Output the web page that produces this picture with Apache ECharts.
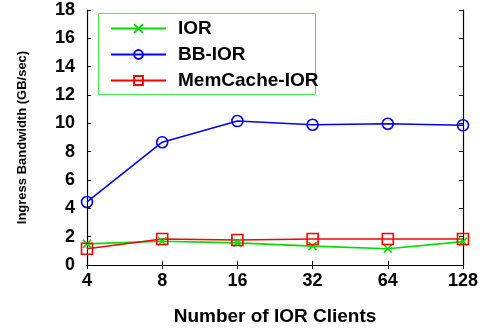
<!DOCTYPE html>
<html>
<head>
<meta charset="utf-8">
<script src="https://cdn.jsdelivr.net/npm/echarts@6/dist/echarts.min.js"></script>
<style>
  html, body { margin: 0; padding: 0; background: #fff; }
  #chart { width: 487px; height: 331px; }
</style>
</head>
<body>
<div id="chart"></div>
<script>
// Ingress bandwidth (GB/sec) by number of IOR clients
const clients = ['4', '8', '16', '32', '64', '128'];
const iorValues = [1.49, 1.68, 1.56, 1.33, 1.15, 1.65];
const bbIorValues = [4.45, 8.67, 10.16, 9.9, 9.97, 9.86];
const memCacheIorValues = [1.15, 1.84, 1.77, 1.84, 1.84, 1.84];
const yTicks = [0, 2, 4, 6, 8, 10, 12, 14, 16, 18];

const FONT = '"Liberation Sans", Arial, Helvetica, sans-serif';
const crossPath = 'path://M0,0L10,10M10,0L0,10';

const chart = echarts.init(document.getElementById('chart'), null, { renderer: 'canvas' });

function lineSeries(name, data, color, symbol, size) {
  return {
    name: name,
    type: 'line',
    data: data,
    xAxisIndex: 0,
    yAxisIndex: 0,
    symbol: symbol,
    symbolSize: size,
    showAllSymbol: true,
    lineStyle: { color: color, width: 1.6 },
    itemStyle: { color: 'rgba(255,255,255,0)', borderColor: color, borderWidth: 1.6 },
    emphasis: { disabled: true },
    animation: false
  };
}

const frameAxisLine = { show: true, lineStyle: { color: '#000', width: 1.2 } };
const innerTicks = { show: true, inside: true, length: 4, lineStyle: { color: '#000', width: 1 } };

chart.setOption({
  backgroundColor: '#ffffff',
  animation: false,
  grid: { left: 87, right: 24, top: 10, bottom: 59 },
  graphic: [
    {
      // legend frame
      type: 'rect',
      left: 98,
      top: 13,
      shape: { width: 217, height: 81 },
      style: { fill: '#ffffff', stroke: '#44ee44', lineWidth: 1 },
      z: 4
    }
  ],
  legend: {
    left: 110,
    top: 19,
    orient: 'vertical',
    padding: 0,
    itemGap: 7,
    itemWidth: 55,
    itemHeight: 11,
    z: 5,
    textStyle: { fontFamily: FONT, fontWeight: 'bold', fontSize: 19, color: '#000', padding: [0, 0, 0, 7] },
    data: [
      { name: 'IOR' },
      { name: 'BB-IOR' },
      { name: 'MemCache-IOR' }
    ]
  },
  xAxis: [
    {
      type: 'category',
      data: clients,
      boundaryGap: false,
      position: 'bottom',
      name: 'Number of IOR Clients',
      nameLocation: 'middle',
      nameGap: 42,
      nameTextStyle: { fontFamily: FONT, fontWeight: 'bold', fontSize: 19, color: '#000' },
      axisLine: frameAxisLine,
      axisTick: Object.assign({ alignWithLabel: true }, innerTicks),
      axisLabel: { fontFamily: FONT, fontWeight: 'bold', fontSize: 18, color: '#000', margin: 7 },
      splitLine: { show: false }
    },
    {
      type: 'category',
      data: clients,
      boundaryGap: false,
      position: 'top',
      axisLine: frameAxisLine,
      axisTick: Object.assign({ alignWithLabel: true }, innerTicks),
      axisLabel: { show: false },
      splitLine: { show: false }
    }
  ],
  yAxis: [
    {
      type: 'value',
      min: yTicks[0],
      max: yTicks[yTicks.length - 1],
      interval: 2,
      position: 'left',
      name: 'Ingress Bandwidth (GB/sec)',
      nameLocation: 'middle',
      nameGap: 58,
      nameTextStyle: { fontFamily: FONT, fontWeight: 'bold', fontSize: 13, color: '#000' },
      axisLine: frameAxisLine,
      axisTick: innerTicks,
      axisLabel: { fontFamily: FONT, fontWeight: 'bold', fontSize: 18, color: '#000', margin: 12 },
      splitLine: { show: false }
    },
    {
      type: 'value',
      min: yTicks[0],
      max: yTicks[yTicks.length - 1],
      interval: 2,
      position: 'right',
      axisLine: frameAxisLine,
      axisTick: innerTicks,
      axisLabel: { show: false },
      splitLine: { show: false }
    }
  ],
  series: [
    lineSeries('IOR', iorValues, '#00dd00', crossPath, 8),
    lineSeries('BB-IOR', bbIorValues, '#0000ff', 'circle', 11),
    lineSeries('MemCache-IOR', memCacheIorValues, '#ff0000', 'rect', 11)
  ]
});
</script>
</body>
</html>
